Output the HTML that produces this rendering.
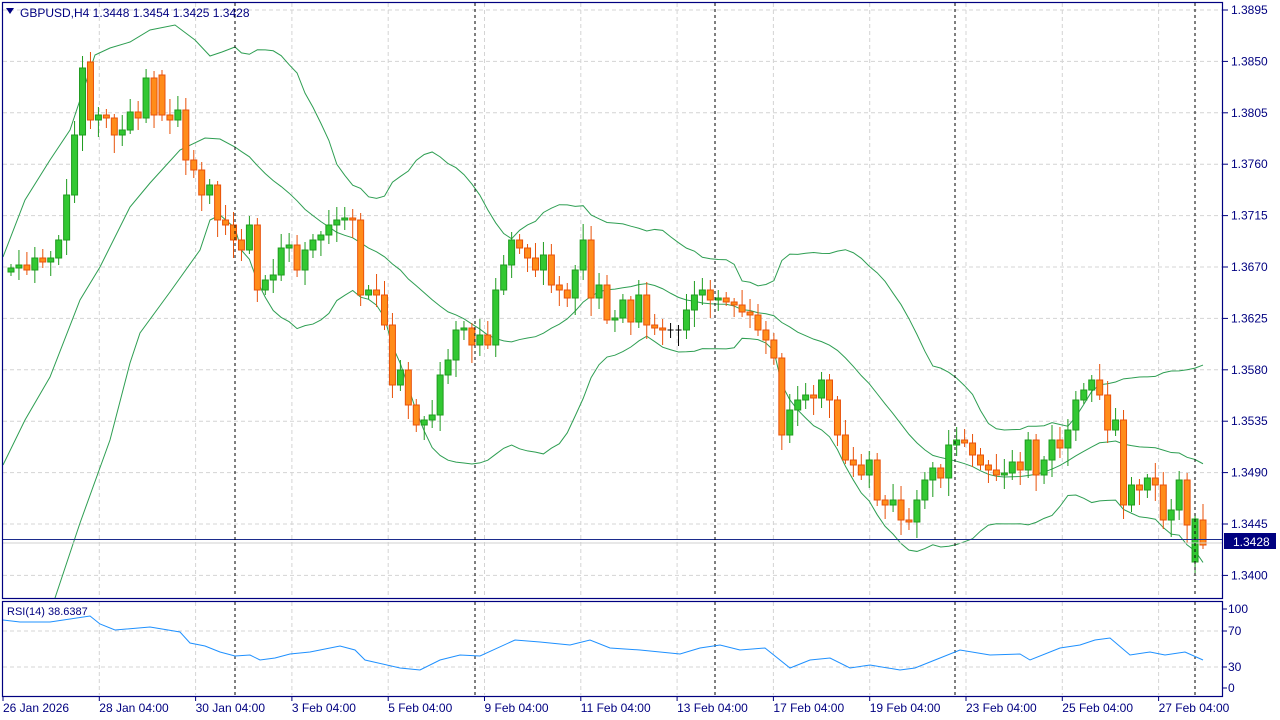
<!DOCTYPE html>
<html><head><meta charset="utf-8"><style>
html,body{margin:0;padding:0;background:#fff;overflow:hidden}
svg{display:block;font-family:"Liberation Sans",sans-serif}
</style></head><body>
<svg id="s" width="1280" height="720" xmlns="http://www.w3.org/2000/svg">
<defs><clipPath id="cp"><rect x="3" y="3" width="1219" height="595"/></clipPath></defs>
<rect width="1280" height="720" fill="#fff"/>
<g id="grid"></g>
<g id="bands" clip-path="url(#cp)"></g>
<g id="candles"></g>
<g id="over"></g>
<text x="20" y="17" font-size="12" fill="#000080">GBPUSD,H4  1.3448 1.3454 1.3425 1.3428</text>
<polygon points="6,8 14,8 10,14" fill="#000080"/>
<text x="7" y="615" font-size="11" fill="#000080">RSI(14) 38.6387</text>
</svg>
<script>
const NS="http://www.w3.org/2000/svg";
function el(p,t,a){const e=document.createElementNS(NS,t);for(const k in a)e.setAttribute(k,a[k]);document.getElementById(p).appendChild(e);return e;}
const grid='grid';
const prices=["1.3895","1.3850","1.3805","1.3760","1.3715","1.3670","1.3625","1.3580","1.3535","1.3490","1.3445","1.3400"];
prices.forEach((p,i)=>{const y=10+i*51.4;
 el(grid,'line',{x1:3,x2:1222,y1:y,y2:y,stroke:'#d4d4d4','stroke-dasharray':'4,3'});
 el(grid,'line',{x1:1223,x2:1228,y1:y,y2:y,stroke:'#000080'});
 const t=el('over','text',{x:1231,y:y+4,'font-size':12,fill:'#000080'});t.textContent=p;});
const dl=["26 Jan 2026","28 Jan 04:00","30 Jan 04:00","3 Feb 04:00","5 Feb 04:00","9 Feb 04:00","11 Feb 04:00","13 Feb 04:00","17 Feb 04:00","19 Feb 04:00","23 Feb 04:00","25 Feb 04:00","27 Feb 04:00"];
dl.forEach((d,i)=>{const x=3+i*96.3;
 if(i>0){el(grid,'line',{x1:x,x2:x,y1:3,y2:597,stroke:'#d4d4d4','stroke-dasharray':'4,3'});
 el(grid,'line',{x1:x,x2:x,y1:602,y2:695,stroke:'#d4d4d4','stroke-dasharray':'4,3'});}
 el(grid,'line',{x1:x,x2:x,y1:697,y2:701,stroke:'#000080'});
 const t=el('over','text',{x:x,y:712,'font-size':12,fill:'#000080'});t.textContent=d;});
[631,667].forEach(y=>el(grid,'line',{x1:3,x2:1222,y1:y,y2:y,stroke:'#d4d4d4','stroke-dasharray':'4,3'}));
[["100",609],["70",631],["30",667],["0",688]].forEach(([s,y])=>{el(grid,'line',{x1:1223,x2:1227,y1:y,y2:y,stroke:'#000080'});const t=el('over','text',{x:1228,y:y+4,'font-size':12,fill:'#000080'});t.textContent=s;});
const C=[268,265,270,258,262,258,240,195,135,68,120,115,118,135,130,112,118,78,115,115,120,110,160,170,195,185,220,225,240,250,225,290,280,275,248,245,270,250,240,235,225,220,218,220,295,290,295,325,385,370,405,425,420,415,375,360,330,328,345,335,345,290,265,240,248,258,270,255,285,290,298,270,240,298,285,320,318,300,322,295,325,328,330,330,330,310,295,290,300,298,302,305,312,315,330,340,358,435,410,400,395,398,380,400,435,460,465,475,460,500,505,500,520,522,500,480,468,478,445,440,443,455,465,470,475,473,462,470,440,475,460,440,448,430,400,390,380,395,430,420,505,485,490,478,485,520,510,480,525,519,545];
let O=[272].concat(C.slice(0,-1));
O[10]=62;O[19]=75;
const n=C.length;
O[n-2]=562;O[n-1]=520;
const step=(1203-11)/(n-1);
function sx(i){return 11+i*step;}
const cg='candles';
for(let i=0;i<n;i++){
 const x=sx(i),o=O[i],c=C[i];
 const top=Math.min(o,c),bot=Math.max(o,c);
 const hi=top-4-((i*37)%13),lo=bot+4+((i*53)%15);
 const up=c<o; const doji=Math.abs(c-o)<1.5;
 const col=doji?'#000':(up?'#1e9b1e':'#e8520a');
 el(cg,'line',{x1:x,x2:x,y1:hi,y2:lo,stroke:col,'stroke-width':1});
 if(doji){el(cg,'line',{x1:x-3,x2:x+3,y1:c,y2:c,stroke:'#000'});}
 else el(cg,'rect',{x:x-3,y:top,width:6,height:bot-top,fill:up?'#32c832':'#ff8c1a',stroke:col,'stroke-width':1});
}
let up=[],mid=[],lw=[];
for(let i=0;i<n;i++){const s=C.slice(Math.max(0,i-19),i+1);const m=s.reduce((a,b)=>a+b,0)/s.length;
 const sd=Math.sqrt(s.reduce((a,b)=>a+(b-m)*(b-m),0)/s.length);
 if(sx(i)<240)continue;
 mid.push([sx(i),m]);up.push([sx(i),m-2*sd]);lw.push([sx(i),m+2*sd]);}
const hu=[[3,257],[25,200],[50,160],[70,130],[80,100],[95,55],[110,48],[130,42],[150,30],[175,25],[195,40],[210,56],[222,52],[235,47]];
const hm=[[3,465],[25,420],[50,377],[80,300],[100,267],[130,207],[150,183],[180,150],[205,138],[220,139],[235,147]];
const hl=[[40,650],[55,598],[80,523],[110,440],[130,363],[140,333],[170,292],[200,250],[210,220],[220,215],[235,228]];
[[hu,up],[hm,mid],[hl,lw]].forEach(([h,a])=>el('bands','polyline',{points:h.concat(a).map(p=>p.join(',')).join(' '),fill:'none',stroke:'#2e9e52','stroke-width':1}));
el('over','line',{x1:3,x2:1222,y1:543,y2:543,stroke:'#d0d0d0','stroke-width':1});
el('over','line',{x1:3,x2:1222,y1:539.5,y2:539.5,stroke:'#1c2c8c','stroke-width':1});
el('over','rect',{x:1224,y:533,width:52,height:16,fill:'#000080'});
const pt=el('over','text',{x:1233,y:546,'font-size':12,fill:'#fff'});pt.textContent="1.3428";
[235,475,715,955,1195].forEach(x=>{el('over','line',{x1:x,x2:x,y1:3,y2:597,stroke:'#000','stroke-dasharray':'3,3'});el('over','line',{x1:x,x2:x,y1:602,y2:695,stroke:'#000','stroke-dasharray':'3,3'});});
const R=[[3,620],[20,622],[50,622],[90,616],[100,624],[115,630],[150,627],[180,632],[190,643],[205,646],[220,652],[235,656],[250,655],[260,660],[275,658],[290,654],[310,652],[340,646],[355,650],[365,660],[400,668],[420,670],[440,660],[460,655],[480,656],[515,640],[540,642],[570,645],[590,640],[610,648],[640,650],[680,654],[700,648],[720,645],[740,650],[765,648],[790,668],[810,660],[830,658],[850,668],[870,665],[900,670],[915,668],[935,660],[960,650],[990,655],[1020,654],[1030,660],[1060,648],[1080,645],[1095,640],[1110,638],[1130,655],[1150,652],[1165,655],[1185,652],[1203,660]];
el('over','polyline',{points:R.map(p=>p.join(',')).join(' '),fill:'none',stroke:'#1e90ff','stroke-width':1});
el('over','rect',{x:2.5,y:2.5,width:1220,height:596,fill:'none',stroke:'#000080','stroke-width':1.2});
el('over','rect',{x:2.5,y:601.5,width:1220,height:95,fill:'none',stroke:'#000080','stroke-width':1.2});
</script>
</body></html>
